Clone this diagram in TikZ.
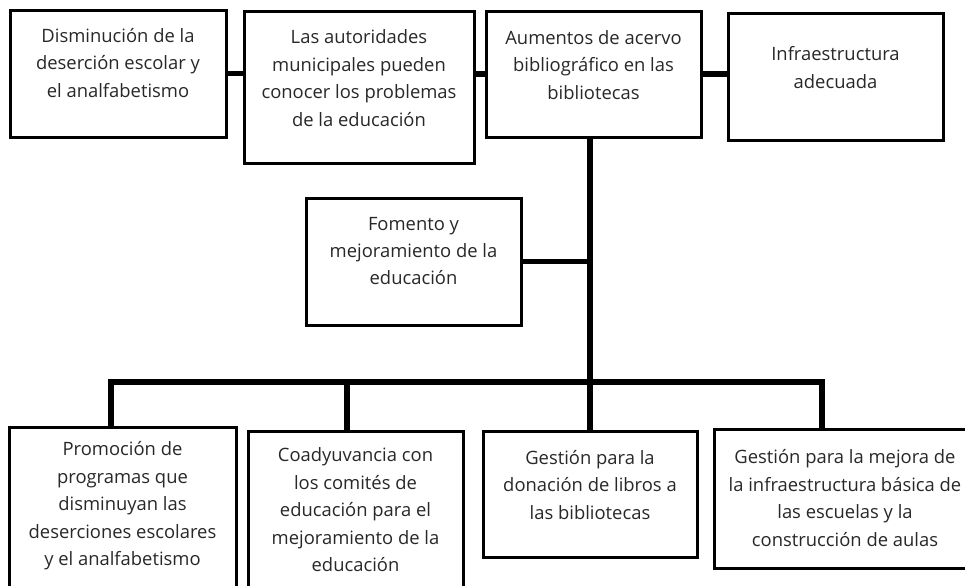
\documentclass[tikz,border=0pt]{standalone}
\usepackage{fontspec}
\setmainfont{Open Sans}
\definecolor{txt}{RGB}{40,40,40}
\begin{document}
\begin{tikzpicture}[x=0.75pt,y=-0.75pt,
  bx/.style 2 args={draw=black,line width=2.25pt,rectangle,inner sep=0pt,
    minimum width=#1*0.75pt,minimum height=#2*0.75pt},
  lbl/.style={align=center,text=txt,font=\fontsize{13.8}{20.6}\selectfont,inner sep=0pt},
  conn/.style={line width=4pt,black}]
\useasboundingbox (0,0) rectangle (965,586);
\clip (0,0) rectangle (965,586);
\fill[white] (0,0) rectangle (965,586);

% top row
\node[bx={216}{127}] (b1) at (118,73.5) {};
\node[lbl] (t1) at (118,63) {Disminución de la\\deserción escolar y\\el analfabetismo};
\node[bx={230}{152}] (b2) at (359,87) {};
\node[lbl] (t2) at (359,78) {Las autoridades\\municipales pueden\\conocer los problemas\\de la educación};
\node[bx={215}{126}] (b3) at (593.5,74) {};
\node[lbl] (t3) at (593.5,65) {Aumentos de acervo\\bibliográfico en las\\bibliotecas};
\node[bx={215}{127}] (b4) at (835.5,76.5) {};
\node[lbl] (t4) at (835.5,67.5) {Infraestructura\\adecuada};

% middle
\node[bx={215}{127}] (b9) at (413.5,261.5) {};
\node[lbl] (t9) at (413.5,251) {Fomento y\\mejoramiento de la\\educación};

% bottom row
\node[bx={227}{173}] (b5) at (122.5,513.5) {};
\node[lbl] (t5) at (122.5,506) {Promoción de\\programas que\\disminuyan las\\deserciones escolares\\y el analfabetismo};
\node[bx={215}{169}] (b6) at (355.5,515.5) {};
\node[lbl] (t6) at (355.5,510) {Coadyuvancia con\\los comités de\\educación para el\\mejoramiento de la\\educación};
\node[bx={214}{126}] (b7) at (590,494) {};
\node[lbl] (t7) at (590,485) {Gestión para la\\donación de libros a\\las bibliotecas};
\node[bx={262}{139}] (b8) at (845,498.5) {};
\node[lbl] (t8) at (845,498) {Gestión para la mejora de\\la infraestructura básica de\\las escuelas y la\\construcción de aulas};

% connectors
\draw[conn] (b1.east) -- (b1.east -| b2.west);
\draw[conn] (b3.west) -- (b3.west -| b2.east);
\draw[conn] (b3.east) -- (b3.east -| b4.west);
\draw[conn] (b7.north) -- (b7.north |- b3.south);
\draw[conn] (b9.east) -- (b9.east -| b7.north);
\coordinate (busL) at (111,382);
\coordinate (busR) at (822,382);
\coordinate (d6) at (347,382);
\draw[conn] (b5.north -| busL) -- (busL) -- (busR) -- (b8.north -| busR);
\draw[conn] (d6) -- (d6 |- b6.north);
\end{tikzpicture}
\end{document}
